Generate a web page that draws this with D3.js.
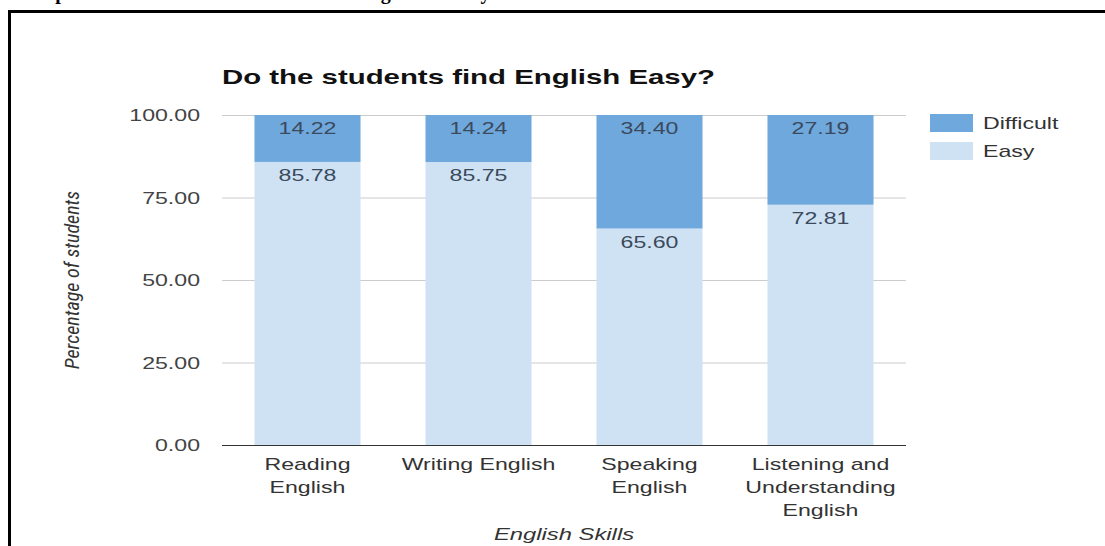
<!DOCTYPE html>
<meta charset="utf-8">
<title>Do the students find English Easy?</title>
<style>

body {
  margin: 0;
  background: #fff;
}

text {
  font-family: "Liberation Sans", Arial, sans-serif;
}

</style>
<body>
<script src="https://d3js.org/d3.v7.min.js"></script>
<script>

var skills = [["Reading", "English"], ["Writing English"], ["Speaking", "English"], ["Listening and", "Understanding", "English"]],
    easy = [85.78, 85.75, 65.60, 72.81],
    difficult = [14.22, 14.24, 34.40, 27.19],
    yTicks = [0, 25, 50, 75, 100],
    seriesNames = ["Difficult", "Easy"],
    colors = ["#6fa8dc", "#cfe2f3"];

var w = 1105,
    h = 546,
    sx = 1.36; // the picture is stretched sideways

function place(px, py, s) {
  return "translate(" + px + "," + py + ") scale(" + (s || sx) + ",1)";
}

var svg = d3.select("body").append("svg")
    .attr("width", w)
    .attr("height", h);

// caption of the page above, cut by the top edge
svg.append("text")
    .attr("x", 13)
    .attr("y", -1.5)
    .attr("textLength", 490)
    .style("font-family", "'Liberation Serif', serif")
    .style("font-weight", "bold")
    .style("font-size", "20px")
    .text("Graph 1: Do the students find English Easy?");

// frame
svg.append("rect")
    .attr("x", 9.5)
    .attr("y", 11.5)
    .attr("width", w)
    .attr("height", h)
    .style("fill", "none")
    .style("stroke", "#000")
    .style("stroke-width", 3);

var x = d3.scaleBand()
    .domain(d3.range(skills.length))
    .range([222, 906])
    .paddingInner(0.38)
    .paddingOuter(0.19);

var y = d3.scaleLinear()
    .domain([0, 100])
    .range([445, 115]);

svg.append("text")
    .attr("transform", place(222, 84, 1.4))
    .style("font-weight", "bold")
    .style("font-size", "21px")
    .style("fill", "#111")
    .text("Do the students find English Easy?");

svg.selectAll(".grid")
    .data(yTicks.filter(function(d) { return d > 0; }))
  .enter().append("line")
    .attr("x1", 222)
    .attr("x2", 906)
    .attr("y1", function(d) { return y(d) + 0.5; })
    .attr("y2", function(d) { return y(d) + 0.5; })
    .style("stroke", "#ccc");

svg.selectAll(".ytick")
    .data(yTicks)
  .enter().append("text")
    .attr("transform", function(d) { return place(200, y(d) + 6); })
    .attr("text-anchor", "end")
    .style("font-size", "17px")
    .style("fill", "#444")
    .text(function(d) { return d3.format(".2f")(d); });

var stack = d3.range(skills.length).map(function(i) {
  return {i: i, easy: easy[i], difficult: difficult[i]};
});

var bars = svg.selectAll(".bar")
    .data(stack)
  .enter().append("g");

bars.append("rect")
    .attr("x", function(d) { return x(d.i); })
    .attr("width", x.bandwidth())
    .attr("y", function(d) { return y(d.easy); })
    .attr("height", function(d) { return y(0) - y(d.easy); })
    .style("fill", colors[1]);

bars.append("rect")
    .attr("x", function(d) { return x(d.i); })
    .attr("width", x.bandwidth())
    .attr("y", function(d) { return y(d.easy + d.difficult); })
    .attr("height", function(d) { return y(d.easy) - y(d.easy + d.difficult); })
    .style("fill", colors[0]);

bars.append("text")
    .attr("transform", function(d) { return place(x(d.i) + x.bandwidth() / 2, y(d.easy + d.difficult) + 19); })
    .attr("text-anchor", "middle")
    .style("font-size", "17px")
    .style("fill", "#3b4a5c")
    .text(function(d) { return d3.format(".2f")(d.difficult); });

bars.append("text")
    .attr("transform", function(d) { return place(x(d.i) + x.bandwidth() / 2, y(d.easy) + 19); })
    .attr("text-anchor", "middle")
    .style("font-size", "17px")
    .style("fill", "#3b4a5c")
    .text(function(d) { return d3.format(".2f")(d.easy); });

svg.append("line")
    .attr("x1", 222)
    .attr("x2", 906)
    .attr("y1", 445.5)
    .attr("y2", 445.5)
    .style("stroke", "#333");

svg.selectAll(".xlabel")
    .data(skills)
  .enter().append("text")
    .attr("transform", function(d, i) { return place(x(i) + x.bandwidth() / 2, 470); })
    .attr("text-anchor", "middle")
    .style("font-size", "17px")
    .style("fill", "#333")
  .selectAll("tspan")
    .data(function(d) { return d; })
  .enter().append("tspan")
    .attr("x", 0)
    .attr("y", function(t, j) { return j * 23; })
    .text(function(t) { return t; });

svg.append("text")
    .attr("transform", place(564, 540, 1.4))
    .attr("text-anchor", "middle")
    .style("font-size", "17px")
    .style("font-style", "italic")
    .style("fill", "#333")
    .text("English Skills");

svg.append("text")
    .attr("transform", "translate(79,280) rotate(-90)")
    .attr("text-anchor", "middle")
    .style("font-family", "'Liberation Sans Narrow', 'Roboto Condensed', sans-serif")
    .style("font-size", "20px")
    .style("font-style", "italic")
    .style("fill", "#333")
    .text("Percentage of students");

var legend = svg.selectAll(".legend")
    .data(seriesNames)
  .enter().append("g")
    .attr("transform", function(d, i) { return "translate(930," + (114 + i * 28) + ")"; });

legend.append("rect")
    .attr("width", 43)
    .attr("height", 18)
    .style("fill", function(d, i) { return colors[i]; });

legend.append("text")
    .attr("transform", place(53, 15))
    .style("font-size", "17px")
    .style("fill", "#333")
    .text(function(d) { return d; });

</script>
